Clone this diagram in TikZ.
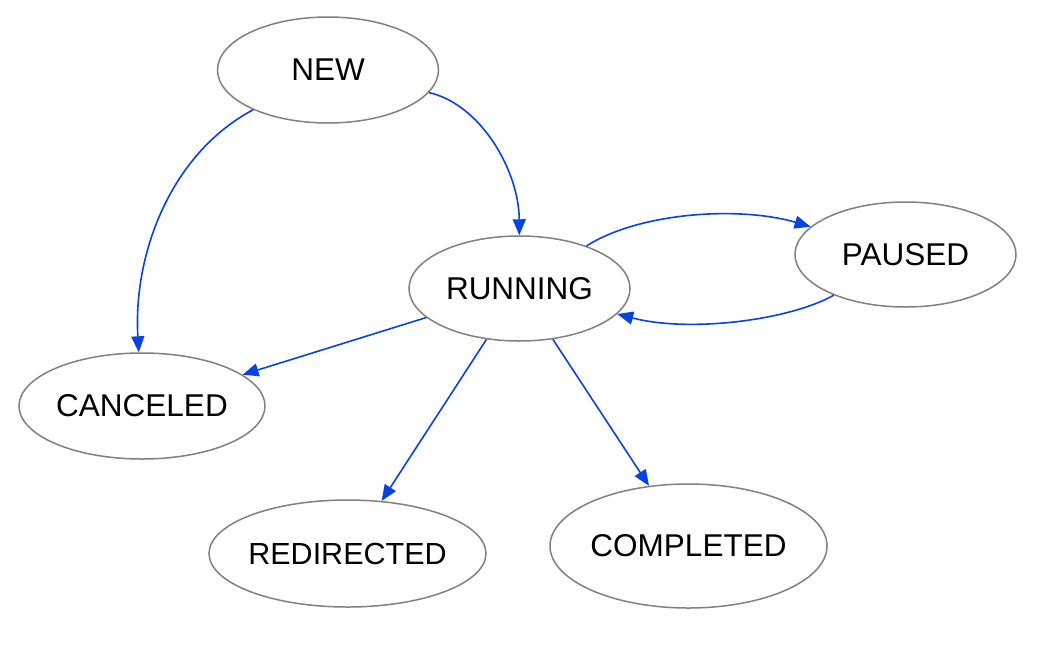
\documentclass[tikz,border=0pt]{standalone}
\usepackage{fontspec}
\setmainfont{Liberation Sans}
\usetikzlibrary{shapes.geometric,arrows.meta}
\definecolor{edgeblue}{RGB}{8,66,226}
\definecolor{nodegray}{RGB}{128,128,128}
\newcommand{\zlbl}[1]{\makebox[0pt]{#1}}
\tikzset{
  state/.style={ellipse, draw=nodegray, line width=1.5pt, inner sep=0pt, font=\fontsize{31.5}{36}\selectfont},
  trans/.style={draw=edgeblue, line width=1.6pt, -{Triangle[length=16pt,width=13pt]}, fill=none}
}
\begin{document}
\begin{tikzpicture}[x=1pt,y=1pt]
\useasboundingbox (0,0) rectangle (1038,-654);
\node[state, minimum width=221pt, minimum height=106pt] (new) at (328,-70) {\zlbl{NEW}};
\node[state, minimum width=221pt, minimum height=105pt] (running) at (519.5,-288.5) {\zlbl{RUNNING}};
\node[state, minimum width=221pt, minimum height=105pt] (paused) at (905.5,-254.5) {\zlbl{PAUSED}};
\node[state, minimum width=246pt, minimum height=106pt] (canceled) at (142,-406) {\zlbl{CANCELED}};
\node[state, minimum width=277pt, minimum height=107pt] (redirected) at (347.5,-553.5) {\zlbl{\fontsize{30.5}{36}\selectfont REDIRECTED}};
\node[state, minimum width=277pt, minimum height=124pt] (completed) at (688.5,-546) {\zlbl{COMPLETED}};
\draw[trans] (new) .. controls (170,-154) and (133,-255) .. (canceled);
\draw[trans] (new) .. controls (480,-104) and (519,-170) .. (running);
\draw[trans] (running) .. controls (640,-212) and (740,-206) .. (paused);
\draw[trans] (paused) .. controls (790,-320) and (690,-333) .. (running);
\draw[trans] (running) -- (canceled);
\draw[trans] (running) -- (redirected);
\draw[trans] (running) -- (completed);
\end{tikzpicture}
\end{document}
